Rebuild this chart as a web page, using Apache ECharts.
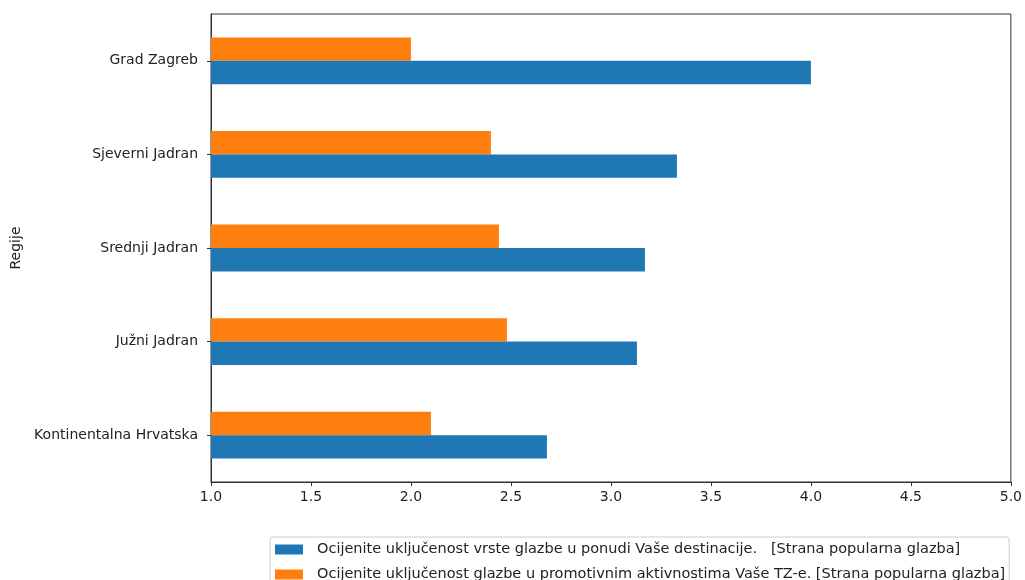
<!DOCTYPE html>
<html>
<head>
<meta charset="utf-8">
<script src="https://cdn.jsdelivr.net/npm/echarts@6/dist/echarts.min.js"></script>
<style>html,body{margin:0;padding:0;background:#fff;}#c{width:1025px;height:580px;}</style>
</head>
<body>
<div id="c"></div>
<script>
const categories = ['Kontinentalna Hrvatska', 'Južni Jadran', 'Srednji Jadran', 'Sjeverni Jadran', 'Grad Zagreb'];
const seriesNames = [
  'Ocijenite uključenost vrste glazbe u ponudi Vaše destinacije.   [Strana popularna glazba]',
  'Ocijenite uključenost glazbe u promotivnim aktivnostima Vaše TZ-e. [Strana popularna glazba]'
];
const blueValues = [2.68, 3.13, 3.17, 3.33, 4.0];
const orangeValues = [2.1, 2.48, 2.44, 2.4, 2.0];
const xTicks = [1.0, 1.5, 2.0, 2.5, 3.0, 3.5, 4.0, 4.5, 5.0];

const font = 'DejaVu Sans';
const fs = 14;
const chart = echarts.init(document.getElementById('c'), null, {renderer: 'canvas'});
chart.setOption({
  animation: false,
  textStyle: {fontFamily: font},
  grid: {left: 211, right: 11, top: 14, bottom: 98, show: true, borderColor: '#333', borderWidth: 1, backgroundColor: '#fff'},
  legend: {
    orient: 'vertical', left: 270, top: 537, height: 100,
    data: seriesNames,
    itemWidth: 28, itemHeight: 10, itemGap: 10,
    icon: 'rect',
    borderColor: '#ccc', borderWidth: 1, borderRadius: 3,
    padding: [5, 4, 6, 5],
    textStyle: {fontFamily: font, fontSize: 14.5, color: '#222', padding: [0, 0, 0, 9]}
  },
  xAxis: {
    type: 'value', min: xTicks[0], max: xTicks[xTicks.length - 1], interval: 0.5,
    axisLine: {show: true, lineStyle: {color: '#333'}},
    axisTick: {show: true, length: 4, lineStyle: {color: '#333'}},
    splitLine: {show: false},
    axisLabel: {fontFamily: font, fontSize: fs, color: '#222', margin: 8, formatter: v => v.toFixed(1)}
  },
  yAxis: {
    type: 'category', data: categories,
    name: 'Regije', nameLocation: 'middle', nameGap: 188, nameRotate: 90,
    nameTextStyle: {fontFamily: font, fontSize: fs, color: '#222'},
    axisLine: {show: true, lineStyle: {color: '#333'}},
    axisTick: {show: true, length: 4, alignWithLabel: true, lineStyle: {color: '#333'}},
    axisLabel: {fontFamily: font, fontSize: fs, color: '#222', margin: 13}
  },
  series: [
    {name: seriesNames[1], type: 'bar', data: orangeValues, itemStyle: {color: '#ff7f0e'}, barCategoryGap: '50%', barGap: '0%'},
    {name: seriesNames[0], type: 'bar', data: blueValues, itemStyle: {color: '#1f77b4'}, barCategoryGap: '50%', barGap: '0%'}
  ]
});
</script>
</body>
</html>
